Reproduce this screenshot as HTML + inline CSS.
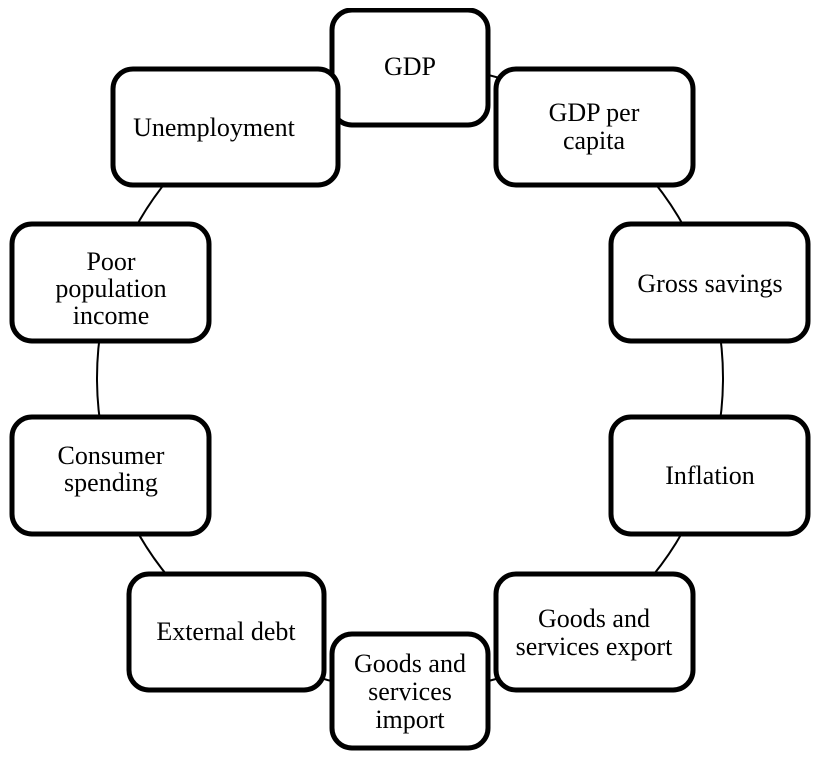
<!DOCTYPE html>
<html><head><style>
html,body{margin:0;padding:0;background:#fff;}
svg{display:block;}
text{font-family:"Liberation Serif",serif;font-size:26px;fill:#000;text-anchor:middle;}
</style></head><body>
<svg width="814" height="758" viewBox="0 0 814 758">
<circle cx="410" cy="378" r="313" fill="none" stroke="#000" stroke-width="2"/>
<g fill="#fff" stroke="#000" stroke-width="5">
<rect x="332" y="10" width="156" height="115" rx="20"/>
<rect x="113" y="69" width="225" height="116" rx="20"/>
<rect x="496" y="69" width="197" height="116" rx="20"/>
<rect x="12" y="224" width="197" height="117" rx="20"/>
<rect x="611" y="224" width="197" height="117" rx="20"/>
<rect x="12" y="417" width="197" height="117" rx="20"/>
<rect x="611" y="417" width="197" height="117" rx="20"/>
<rect x="129" y="574" width="195" height="116" rx="20"/>
<rect x="496" y="574" width="197" height="116" rx="20"/>
<rect x="332" y="634" width="156" height="114" rx="20"/>
</g>
<rect x="0" y="0" width="814" height="8" fill="#fff"/>
<text x="410" y="75">GDP</text>
<text x="214" y="136">Unemployment</text>
<text x="594" y="121">GDP per</text>
<text x="594" y="149">capita</text>
<text x="111" y="270">Poor</text>
<text x="111" y="297">population</text>
<text x="111" y="324">income</text>
<text x="710" y="292">Gross savings</text>
<text x="111" y="464">Consumer</text>
<text x="111" y="491">spending</text>
<text x="710" y="484">Inflation</text>
<text x="226" y="640">External debt</text>
<text x="594" y="627">Goods and</text>
<text x="594" y="655">services export</text>
<text x="410" y="672">Goods and</text>
<text x="410" y="700">services</text>
<text x="410" y="728">import</text>
</svg>
</body></html>
